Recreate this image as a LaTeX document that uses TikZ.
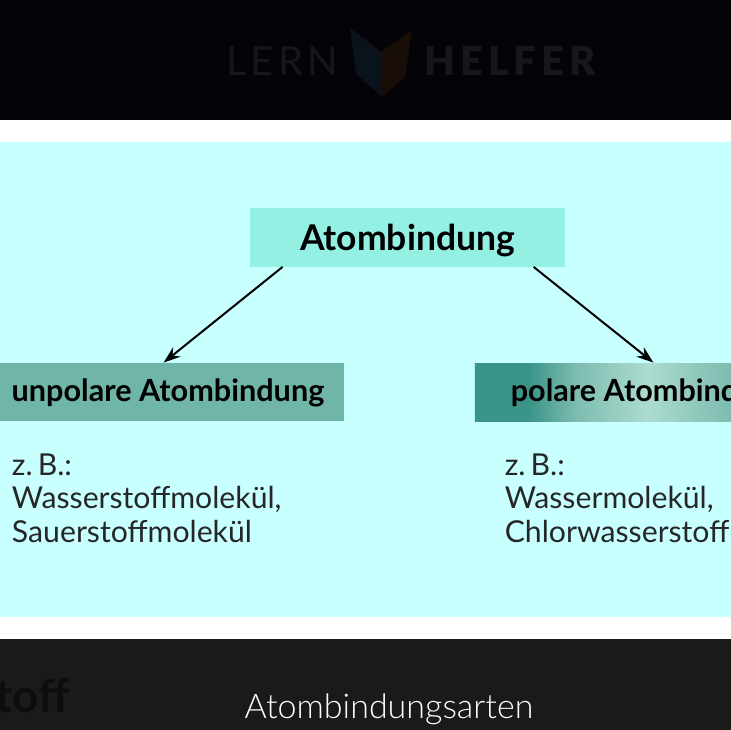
\documentclass[tikz,border=0pt]{standalone}
\usepackage{fontspec}
\setmainfont{Lato}
\newfontfamily\lightfont{Lato Light}
\newfontfamily\blackfont{Lato Black}
\usetikzlibrary{arrows.meta,positioning}

\definecolor{headbg}{HTML}{030308}
\definecolor{panelbg}{HTML}{C8FFFF}
\definecolor{footbg}{HTML}{1A1A1A}
\definecolor{logotext}{HTML}{17171A}
\definecolor{logoleft}{HTML}{0A1319}
\definecolor{logoright}{HTML}{190E07}
\definecolor{topbox}{HTML}{94F0E2}
\definecolor{unpolarbox}{HTML}{6FB5A8}
\definecolor{polarA}{HTML}{3A9488}
\definecolor{polarB}{HTML}{7DBCB0}
\definecolor{polarC}{HTML}{ACDCCF}
\definecolor{polarD}{HTML}{8EC8BB}
\definecolor{polarE}{HTML}{7CBCB0}
\pgfdeclarehorizontalshading{polarshade}{100bp}{
  color(0bp)=(polarA);
  color(32.7bp)=(polarA);
  color(39.4bp)=(polarB);
  color(49.8bp)=(polarC);
  color(57bp)=(polarD);
  color(61.7bp)=(polarE);
  color(100bp)=(polarE)}

\begin{document}
\begin{tikzpicture}[x=1pt, y=-1pt, thick,
    band/.style = {fill=#1},
    main/.style = {inner sep=0pt, minimum height=58pt, text height=25pt, text depth=6.2pt, font=\bfseries\fontsize{30.6}{30.6}\selectfont},
    example/.style = {inner sep=0pt, align=left, text=black!85, font=\fontsize{30.2}{33.5}\selectfont},
    arrow/.style = {-{Stealth[length=17pt,width=12pt]}, line width=2pt}]
    \useasboundingbox (0,0) rectangle (731,730);

    % the bands
    \fill[band=headbg] (0,0) rectangle (731,120);
    \fill[band=panelbg] (0,142) rectangle (731,617);
    \fill[band=footbg] (0,639) rectangle (731,730);

    % logo
    \node[text=logotext, anchor=base west, inner sep=0pt, font=\fontsize{40}{40}\selectfont\addfontfeature{LetterSpace=10}] (lern) at (226,76) {LERN};
    \node[text=logotext, anchor=base west, inner sep=0pt, font=\blackfont\fontsize{40}{40}\selectfont\addfontfeature{LetterSpace=12}] (helfer) at (424,76) {HELFER};
    \fill[band=logoleft] (350,28) -- (381,52) -- (382,97) -- (356,74) -- cycle;
    \fill[band=logoright] (412,30) -- (381,52) -- (382,97) -- (405,77) -- cycle;

    \node[main, fill=topbox, minimum width=315pt, text height=32.6pt, text depth=7.1pt, font=\bfseries\fontsize{35.5}{35.5}\selectfont] (atom) at (407.5,237.5) {Atombindung};
    \node[main, fill=unpolarbox, minimum width=352pt] (unpolar) at (168,392) {unpolare Atombindung};
    \node[main, shading=polarshade, minimum width=350pt, right=130pt of unpolar] (polar) {polare Atombindung};

    \node[example, below right=32pt and 20pt of unpolar.south west] (unpolarex) {z.\,B.:\\Wasserstoffmolekül,\\Sauerstoffmolekül};
    \node[example, below right=32pt and 30pt of polar.south west] (polarex) {z.\,B.:\\Wassermolekül,\\Chlorwasserstoffmolekül};

    \draw[arrow] ([xshift=33pt]atom.south west) -- ([xshift=172pt]unpolar.north west);
    \draw[arrow] ([xshift=284pt]atom.south west) -- ([xshift=179pt]polar.north west);

    % footer
    \node[text=black!95, anchor=base east, inner sep=0pt, font=\bfseries\fontsize{46}{46}\selectfont] (stoff) at (70,712) {toff};
    \node[text=white, anchor=base, inner sep=0pt, font=\lightfont\fontsize{34}{34}\selectfont] (caption) at (389,718) {Atombindungsarten};
\end{tikzpicture}
\end{document}
